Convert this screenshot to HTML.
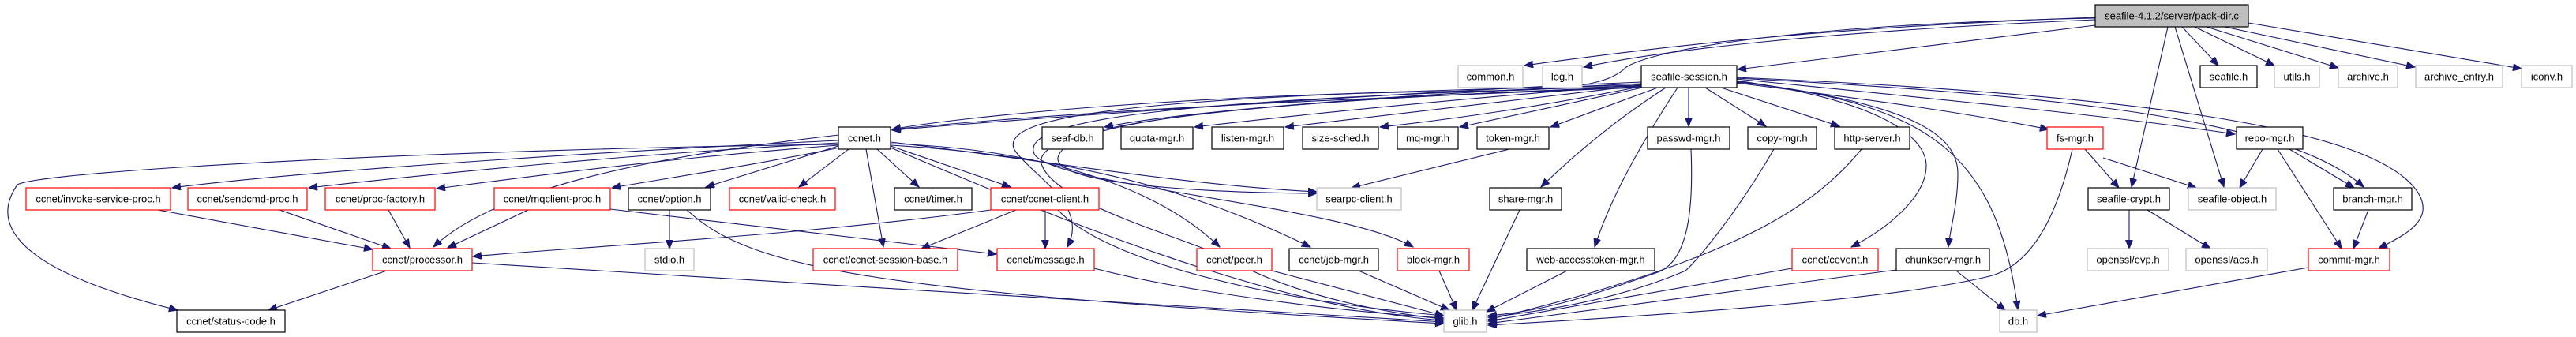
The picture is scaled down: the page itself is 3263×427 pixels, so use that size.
<!DOCTYPE html>
<html><head><meta charset="utf-8"><style>
html,body{margin:0;padding:0;background:#fff;}
svg{display:block;}
text{font-family:"Liberation Sans",Helvetica,Arial,sans-serif;font-size:13px;text-anchor:middle;fill:#000;}
.e{fill:none;stroke:#191970;stroke-width:1.1;marker-end:url(#a);}
.b{fill:#fff;stroke:#000;stroke-width:1.2;}
.r{fill:#fff;stroke:#ff0000;stroke-width:1.2;}
.g{fill:#fff;stroke:#bfbfbf;stroke-width:1.2;}
</style></head><body>
<svg width="3263" height="427" viewBox="0 0 3263 427" xmlns="http://www.w3.org/2000/svg">
<defs><marker id="a" markerUnits="userSpaceOnUse" markerWidth="12" markerHeight="10" refX="11" refY="4.5" orient="auto"><path d="M0,0 L11,4.5 L0,9 z" fill="#191970" stroke="#191970"/></marker></defs>

<!-- edges from root -->
<path class="e" d="M2654,22 C2300,35 2100,60 1931,83"/>
<path class="e" d="M2654,25 C2300,40 2100,65 2006,85"/>
<path class="e" d="M2654,32 L2201,88"/>
<path class="e" d="M2654,23 C2300,30 2100,60 2060,85 C2040,105 2000,113 1900,115 C1500,118 1200,150 1130,164"/>
<path class="e" d="M2746,34 L2700,237"/>
<path class="e" d="M2755,34 L2817,237"/>
<path class="e" d="M2764,34 L2810,83"/>
<path class="e" d="M2780,34 L2881,83"/>
<path class="e" d="M2795,34 L2962,86"/>
<path class="e" d="M2818,34 L3059,85"/>
<path class="e" d="M2848,29 L3194,87"/>

<!-- from seafile-session -->
<path class="e" d="M2079,104 C1800,115 1300,150 1130,165"/>
<path class="e" d="M2079,106 C1800,118 1500,140 1399,161"/>
<path class="e" d="M2079,107 C1850,125 1650,145 1513,161"/>
<path class="e" d="M2080,108 C1900,130 1750,148 1628,161"/>
<path class="e" d="M2082,109 C1950,135 1850,150 1748,161"/>
<path class="e" d="M2085,110 L1849,161"/>
<path class="e" d="M2100,111 L1964,161"/>
<path class="e" d="M2110,111 C2050,150 2000,190 1952,237"/>
<path class="e" d="M2125,111 C2080,180 2040,250 2020,313"/>
<path class="e" d="M2139,111 L2139,160"/>
<path class="e" d="M2160,111 L2237,160"/>
<path class="e" d="M2180,111 L2330,160"/>
<path class="e" d="M2199,102 C2400,130 2440,180 2440,210 C2440,250 2390,290 2345,313"/>
<path class="e" d="M2199,103 C2420,130 2480,170 2480,220 C2480,260 2470,290 2468,313"/>
<path class="e" d="M2199,104 C2450,130 2530,200 2556,392"/>
<path class="e" d="M2199,105 C2400,130 2500,145 2595,164"/>
<path class="e" d="M2199,100 C2500,130 2700,150 2831,170"/>
<path class="e" d="M2199,99 C2600,120 2900,150 2994,237"/>
<path class="e" d="M2199,98 C2700,120 3000,160 3060,240 C3090,280 3040,300 3013,315"/>
<path class="e" d="M2079,108 C1500,120 1260,140 1285,190 C1310,225 1380,260 1352,313"/>
<path class="e" d="M2079,109 C1500,125 1290,150 1310,195 C1330,235 1700,260 1790,313"/>
<path class="e" d="M2079,110 C1500,130 1300,165 1320,210 C1340,260 1500,300 1560,330 C1650,380 1780,400 1829,404"/>
<path class="e" d="M2079,110 C1600,128 1350,150 1340,200 C1335,240 1600,245 1668,245"/>
<path class="e" d="M2079,111 C1300,140 700,170 549,313"/>

<!-- from ccnet.h -->
<path class="e" d="M1062,178 C800,190 400,215 218,238"/>
<path class="e" d="M1062,181 C800,195 550,220 391,238"/>
<path class="e" d="M1062,184 C850,200 700,220 553,239"/>
<path class="e" d="M1064,187 C950,210 850,225 775,238"/>
<path class="e" d="M1062,185 L894,237"/>
<path class="e" d="M1075,189 L1012,237"/>
<path class="e" d="M1111,189 L1164,237"/>
<path class="e" d="M1128,185 L1280,237"/>
<path class="e" d="M1097,189 L1119,313"/>
<path class="e" d="M1062,183 C600,188 60,215 22,234 C-10,280 10,340 225,393"/>
<path class="e" d="M1128,180 C1300,200 1500,235 1668,243"/>
<path class="e" d="M1128,182 C1350,190 1480,250 1545,313"/>
<path class="e" d="M1128,184 C1400,200 1550,260 1660,313"/>
<path class="e" d="M1128,187 C1300,260 1600,390 1829,406"/>

<!-- others -->
<path class="e" d="M200,266 L472,316"/>
<path class="e" d="M354,266 L495,315"/>
<path class="e" d="M492,266 L519,314"/>
<path class="e" d="M669,266 L567,314"/>
<path class="e" d="M773,265 L1262,322"/>
<path class="e" d="M1255,266 C1000,300 700,315 599,325"/>
<path class="e" d="M1287,266 L1167,315"/>
<path class="e" d="M1324,266 L1324,315"/>
<path class="e" d="M1340,266 C1400,330 1600,380 1829,400"/>
<path class="e" d="M490,343 L340,393"/>
<path class="e" d="M598,333 C1000,360 1500,385 1829,408"/>
<path class="e" d="M848,266 L848,315"/>
<path class="e" d="M870,266 C950,340 1100,370 1829,410"/>
<path class="e" d="M1386,340 C1500,370 1700,395 1829,403"/>
<path class="e" d="M1611,343 L1829,400"/>
<path class="e" d="M1721,343 L1836,393"/>
<path class="e" d="M1823,343 L1845,393"/>
<path class="e" d="M1925,266 L1865,393"/>
<path class="e" d="M1985,343 L1883,395"/>
<path class="e" d="M2142,189 C2145,260 2140,330 2100,345 C2000,380 1950,395 1885,400"/>
<path class="e" d="M2247,189 C2200,270 2150,330 2135,343 C2050,380 1950,395 1885,402"/>
<path class="e" d="M2358,189 C2300,260 2200,330 1885,405"/>
<path class="e" d="M2270,340 L1885,407"/>
<path class="e" d="M2402,342 L1885,410"/>
<path class="e" d="M2478,343 L2540,393"/>
<path class="e" d="M2625,189 C2600,300 2560,340 2520,350 C2400,380 2100,400 1885,412"/>
<path class="e" d="M2641,189 L2684,238"/>
<path class="e" d="M2664,200 L2782,238"/>
<path class="e" d="M1912,189 L1712,238"/>
<path class="e" d="M2697,266 L2697,315"/>
<path class="e" d="M2720,266 L2800,315"/>
<path class="e" d="M2866,189 L2837,238"/>
<path class="e" d="M2900,189 L2982,238"/>
<path class="e" d="M2885,189 L2966,315"/>
<path class="e" d="M3000,266 L2981,315"/>
<path class="e" d="M2924,339 L2581,400"/>

<!-- nodes -->
<rect x="2654" y="6" width="194" height="28" fill="#bfbfbf" stroke="#000" stroke-width="1.2"/><text x="2751" y="24.5">seafile-4.1.2/server/pack-dir.c</text>

<rect class="g" x="1847" y="83" width="82" height="28"/><text x="1888" y="101.5">common.h</text>
<rect class="g" x="1954" y="83" width="50" height="28"/><text x="1979" y="101.5">log.h</text>
<rect class="b" x="2079" y="83" width="121" height="28"/><text x="2139.5" y="101.5">seafile-session.h</text>
<rect class="b" x="2787" y="83" width="72" height="28"/><text x="2823" y="101.5">seafile.h</text>
<rect class="g" x="2881" y="83" width="57" height="28"/><text x="2909.5" y="101.5">utils.h</text>
<rect class="g" x="2962" y="83" width="75" height="28"/><text x="2999.5" y="101.5">archive.h</text>
<rect class="g" x="3060" y="83" width="110" height="28"/><text x="3115" y="101.5">archive_entry.h</text>
<rect class="g" x="3194" y="83" width="64" height="28"/><text x="3226" y="101.5">iconv.h</text>

<rect class="b" x="1062" y="161" width="66" height="28"/><text x="1095" y="179.5">ccnet.h</text>
<rect class="b" x="1320" y="161" width="77" height="28"/><text x="1358.5" y="179.5">seaf-db.h</text>
<rect class="b" x="1420" y="161" width="91" height="28"/><text x="1465.5" y="179.5">quota-mgr.h</text>
<rect class="b" x="1535" y="161" width="91" height="28"/><text x="1580.5" y="179.5">listen-mgr.h</text>
<rect class="b" x="1650" y="161" width="96" height="28"/><text x="1698" y="179.5">size-sched.h</text>
<rect class="b" x="1770" y="161" width="77" height="28"/><text x="1808.5" y="179.5">mq-mgr.h</text>
<rect class="b" x="1871" y="161" width="91" height="28"/><text x="1916.5" y="179.5">token-mgr.h</text>
<rect class="b" x="2087" y="161" width="104" height="28"/><text x="2139" y="179.5">passwd-mgr.h</text>
<rect class="b" x="2214" y="161" width="87" height="28"/><text x="2257.5" y="179.5">copy-mgr.h</text>
<rect class="b" x="2324" y="161" width="95" height="28"/><text x="2371.5" y="179.5">http-server.h</text>
<rect class="r" x="2593" y="161" width="71" height="28"/><text x="2628.5" y="179.5">fs-mgr.h</text>
<rect class="b" x="2833" y="161" width="84" height="28"/><text x="2875" y="179.5">repo-mgr.h</text>

<rect class="r" x="33" y="238" width="183" height="28"/><text x="124.5" y="256.5">ccnet/invoke-service-proc.h</text>
<rect class="r" x="238" y="238" width="151" height="28"/><text x="313.5" y="256.5">ccnet/sendcmd-proc.h</text>
<rect class="r" x="412" y="238" width="139" height="28"/><text x="481.5" y="256.5">ccnet/proc-factory.h</text>
<rect class="r" x="626" y="238" width="147" height="28"/><text x="699.5" y="256.5">ccnet/mqclient-proc.h</text>
<rect class="b" x="796" y="238" width="104" height="28"/><text x="848" y="256.5">ccnet/option.h</text>
<rect class="r" x="924" y="238" width="134" height="28"/><text x="991" y="256.5">ccnet/valid-check.h</text>
<rect class="b" x="1133" y="238" width="98" height="28"/><text x="1182" y="256.5">ccnet/timer.h</text>
<rect class="r" x="1255" y="238" width="137" height="28"/><text x="1323.5" y="256.5">ccnet/ccnet-client.h</text>
<rect class="g" x="1668" y="238" width="107" height="28"/><text x="1721.5" y="256.5">searpc-client.h</text>
<rect class="b" x="1887" y="238" width="91" height="28"/><text x="1932.5" y="256.5">share-mgr.h</text>
<rect class="b" x="2645" y="238" width="103" height="28"/><text x="2696.5" y="256.5">seafile-crypt.h</text>
<rect class="g" x="2772" y="238" width="111" height="28"/><text x="2827.5" y="256.5">seafile-object.h</text>
<rect class="b" x="2956" y="238" width="99" height="28"/><text x="3005.5" y="256.5">branch-mgr.h</text>

<rect class="r" x="472" y="315" width="126" height="28"/><text x="535" y="333.5">ccnet/processor.h</text>
<rect class="g" x="817" y="315" width="62" height="28"/><text x="848" y="333.5">stdio.h</text>
<rect class="r" x="1030" y="315" width="183" height="28"/><text x="1121.5" y="333.5">ccnet/ccnet-session-base.h</text>
<rect class="r" x="1263" y="315" width="123" height="28"/><text x="1324.5" y="333.5">ccnet/message.h</text>
<rect class="r" x="1516" y="315" width="95" height="28"/><text x="1563.5" y="333.5">ccnet/peer.h</text>
<rect class="b" x="1633" y="315" width="113" height="28"/><text x="1689.5" y="333.5">ccnet/job-mgr.h</text>
<rect class="r" x="1770" y="315" width="91" height="28"/><text x="1815.5" y="333.5">block-mgr.h</text>
<rect class="b" x="1934" y="315" width="162" height="28"/><text x="2015" y="333.5">web-accesstoken-mgr.h</text>
<rect class="r" x="2270" y="315" width="109" height="28"/><text x="2324.5" y="333.5">ccnet/cevent.h</text>
<rect class="b" x="2402" y="315" width="118" height="28"/><text x="2461" y="333.5">chunkserv-mgr.h</text>
<rect class="g" x="2644" y="315" width="103" height="28"/><text x="2695.5" y="333.5">openssl/evp.h</text>
<rect class="g" x="2769" y="315" width="103" height="28"/><text x="2820.5" y="333.5">openssl/aes.h</text>
<rect class="r" x="2924" y="315" width="103" height="28"/><text x="2975.5" y="333.5">commit-mgr.h</text>

<rect class="b" x="224" y="393" width="137" height="28"/><text x="292.5" y="411.5">ccnet/status-code.h</text>
<rect class="g" x="1829" y="393" width="54" height="28"/><text x="1856" y="411.5">glib.h</text>
<rect class="g" x="2533" y="393" width="47" height="28"/><text x="2556.5" y="411.5">db.h</text>
</svg>
</body></html>
